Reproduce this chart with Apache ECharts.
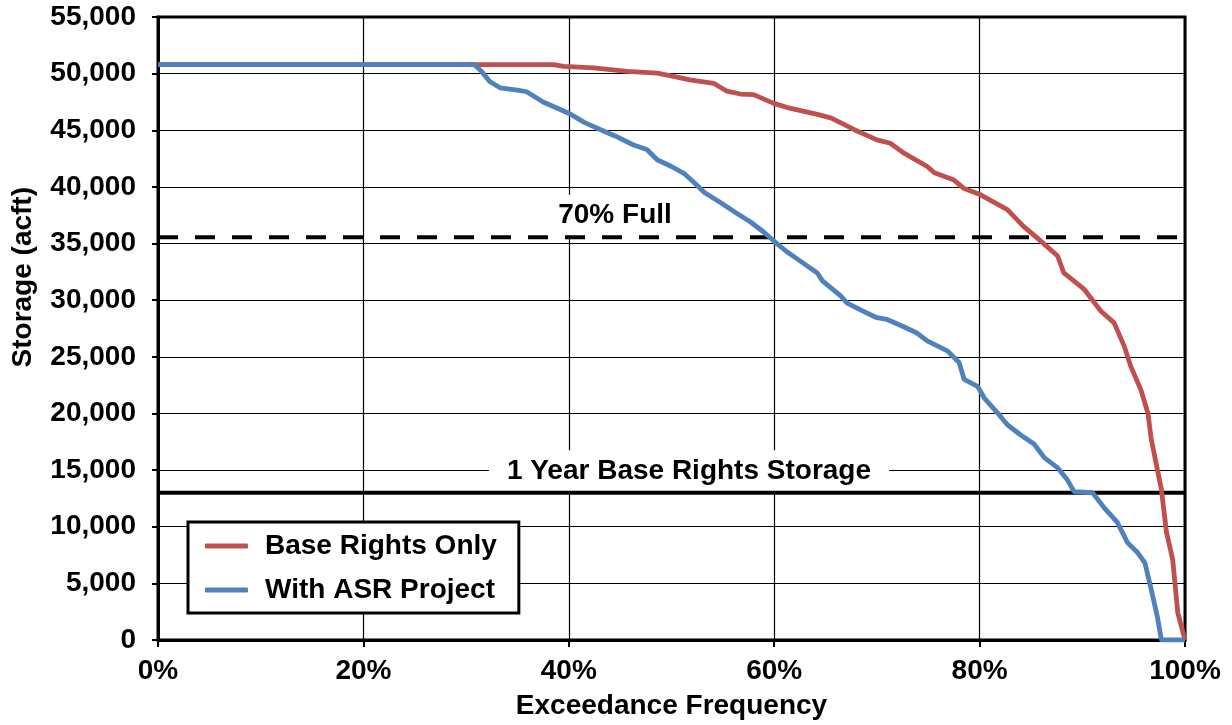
<!DOCTYPE html>
<html>
<head>
<meta charset="utf-8">
<script src="https://cdn.jsdelivr.net/npm/echarts@6/dist/echarts.min.js"></script>
<style>
  html, body { margin: 0; padding: 0; background: #fff; }
  #chart { width: 1232px; height: 725px; }
</style>
</head>
<body>
<div id="chart"></div>
<script>
// ---- data (exceedance frequency %, storage acft) ----
const xTicks = [0, 20, 40, 60, 80, 100];
const yTicks = [0, 5000, 10000, 15000, 20000, 25000, 30000, 35000, 40000, 45000, 50000, 55000];

const baseRightsOnly = [
  [0,50800],[38.5,50800],[39.5,50650],[42.4,50500],[45.7,50200],[48.6,50050],[50.2,49750],
  [51.8,49450],[54.1,49150],[55.4,48450],[56.7,48200],[58.0,48150],[59.9,47400],[61.5,46950],
  [64.2,46400],[65.5,46100],[66.5,45650],[67.8,45050],[70.0,44150],[71.3,43850],[72.6,43000],
  [74.9,41800],[75.6,41250],[77.5,40600],[78.5,39850],[80.1,39300],[82.7,38000],[84.3,36500],
  [85.6,35500],[87.6,33900],[88.2,32400],[90.2,30950],[91.8,29050],[93.1,28000],[94.1,25900],
  [94.7,24200],[95.7,22100],[96.4,20000],[96.7,17800],[97.1,16000],[97.7,13300],[98.2,9500],
  [98.8,7100],[99.3,2400],[99.9,350],[100,0]
];

const withASRProject = [
  [0,50800],[30.8,50800],[31.5,50200],[32.3,49300],[33.3,48750],[35.0,48550],[35.9,48400],
  [37.5,47500],[39.0,46900],[40.2,46400],[41.5,45700],[43.1,45050],[44.5,44500],[46.3,43700],
  [47.6,43300],[48.6,42400],[50.0,41800],[51.2,41200],[52.3,40300],[53.2,39500],[54.8,38600],
  [56.3,37700],[57.7,36900],[59.0,36000],[60.0,35200],[61.2,34300],[62.3,33600],[64.2,32400],
  [64.7,31700],[66.5,30350],[67.1,29750],[68.5,29100],[70.0,28450],[71.0,28300],[72.5,27700],
  [73.9,27100],[74.9,26400],[76.9,25500],[78.0,24500],[78.5,23000],[79.8,22400],[80.5,21300],
  [81.7,20100],[82.7,19000],[84.0,18100],[85.3,17300],[86.3,16100],[87.6,15200],[88.5,14200],
  [89.2,13100],[91.0,13000],[92.2,11600],[93.4,10400],[94.4,8600],[95.4,7700],[96.1,6800],
  [96.7,4500],[97.3,2100],[97.7,0],[100,0]
];

const seventyPctFull = 35550;
const oneYearBaseRights = 13000;
const seventyLabel = '70% Full';
const oneYearLabel = '1 Year Base Rights Storage';
const seriesNames = ['Base Rights Only', 'With ASR Project'];

// ---- chart ----
const FONT = '"Liberation Sans", Arial, sans-serif';
const FS = 28;
const chart = echarts.init(document.getElementById('chart'), null, { renderer: 'canvas' });

const labelStyle = {
  show: true,
  position: 'inside',
  color: '#000',
  opacity: 1,
  fontFamily: FONT,
  fontWeight: 'bold',
  fontSize: FS,
  backgroundColor: '#fff'
};

chart.setOption({
  animation: false,
  backgroundColor: '#fff',
  textStyle: { fontFamily: FONT },
  grid: {
    left: 158, right: 47, top: 17, bottom: 84,
    show: true, borderColor: '#000', borderWidth: 3, backgroundColor: 'transparent'
  },
  xAxis: {
    type: 'value',
    min: xTicks[0], max: xTicks[xTicks.length - 1], interval: 20,
    name: 'Exceedance Frequency',
    nameLocation: 'middle',
    nameGap: 52,
    nameTextStyle: { color: '#000', fontFamily: FONT, fontWeight: 'bold', fontSize: FS },
    axisLine: { show: true, onZero: false, lineStyle: { color: '#000', width: 3 } },
    axisTick: { show: true, inside: false, length: 7, lineStyle: { color: '#000', width: 2 } },
    axisLabel: {
      color: '#000', fontFamily: FONT, fontWeight: 'bold', fontSize: FS, margin: 17,
      formatter: v => v + '%'
    },
    splitLine: { show: true, lineStyle: { color: '#000', width: 1.2 } }
  },
  yAxis: {
    type: 'value',
    min: yTicks[0], max: yTicks[yTicks.length - 1], interval: 5000,
    axisLine: { show: true, onZero: false, lineStyle: { color: '#000', width: 3 } },
    axisTick: { show: true, inside: false, length: 6, lineStyle: { color: '#000', width: 2 } },
    axisLabel: {
      color: '#000', fontFamily: FONT, fontWeight: 'bold', fontSize: FS, margin: 22,
      formatter: v => v.toLocaleString('en-US')
    },
    splitLine: { show: true, lineStyle: { color: '#000', width: 1.2 } }
  },
  legend: {
    show: true,
    data: seriesNames,
    orient: 'vertical',
    left: 188, top: 522,
    padding: [8, 22, 7, 17],
    backgroundColor: '#fff',
    borderColor: '#000',
    borderWidth: 3,
    borderRadius: 0,
    itemWidth: 43,
    itemHeight: 5,
    itemGap: 12,
    icon: 'roundRect',
    textStyle: {
      color: '#000', fontFamily: FONT, fontWeight: 'bold', fontSize: FS,
      lineHeight: 32, padding: [0, 0, 0, 12]
    },
    z: 10
  },
  graphic: [{
    type: 'text',
    left: 9, top: 187,
    rotation: Math.PI / 2,
    style: {
      text: 'Storage (acft)',
      fill: '#000',
      font: 'bold ' + FS + 'px ' + FONT
    }
  }],
  series: [
    {
      name: 'labels',
      type: 'scatter',
      symbolSize: 0,
      silent: true,
      z: 1,
      itemStyle: { opacity: 1 },
      data: [
        { value: [44.5, 37500], label: Object.assign({}, labelStyle, { formatter: seventyLabel, padding: [10, 14, 3, 14] }) },
        { value: [51.7, 14900], label: Object.assign({}, labelStyle, { formatter: oneYearLabel, padding: [8, 18, 6, 18] }) }
      ]
    },
    {
      name: 'seventy',
      type: 'line',
      symbol: 'none',
      silent: true,
      z: 2,
      data: [[xTicks[0], seventyPctFull], [xTicks[xTicks.length - 1], seventyPctFull]],
      lineStyle: { color: '#000', width: 4, type: [20, 17] }
    },
    {
      name: 'oneyear',
      type: 'line',
      symbol: 'none',
      silent: true,
      z: 2,
      data: [[xTicks[0], oneYearBaseRights], [xTicks[xTicks.length - 1], oneYearBaseRights]],
      lineStyle: { color: '#000', width: 4 }
    },
    {
      name: seriesNames[0],
      type: 'line',
      symbol: 'none',
      z: 3,
      data: baseRightsOnly,
      itemStyle: { color: '#C0504D' },
      lineStyle: { color: '#C0504D', width: 4.8 }
    },
    {
      name: seriesNames[1],
      type: 'line',
      symbol: 'none',
      z: 3,
      data: withASRProject,
      itemStyle: { color: '#4F81BD' },
      lineStyle: { color: '#4F81BD', width: 4.8 }
    }
  ]
});
</script>
</body>
</html>
